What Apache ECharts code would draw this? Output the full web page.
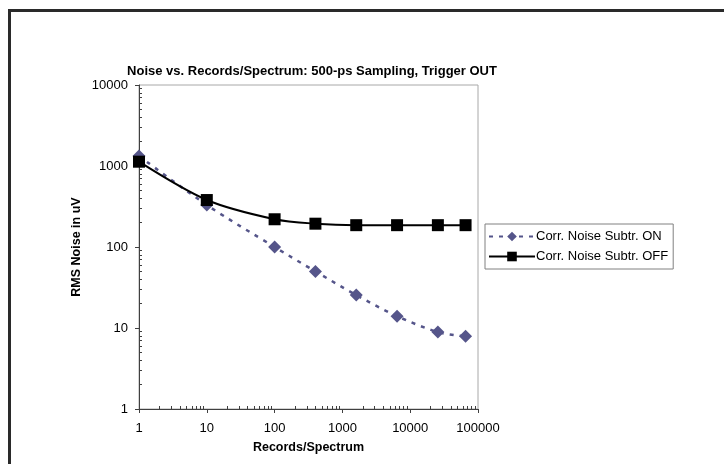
<!DOCTYPE html>
<html>
<head>
<meta charset="utf-8">
<script src="https://cdn.jsdelivr.net/npm/echarts@6/dist/echarts.min.js"></script>
<style>
html,body{margin:0;padding:0;background:#fff;}
#frame{position:absolute;left:8px;top:9px;width:740px;height:480px;border-top:3px solid #2a2a2a;border-left:3px solid #2a2a2a;box-sizing:border-box;}
#chart{position:absolute;left:0;top:0;width:724px;height:464px;}
</style>
</head>
<body>
<div id="frame"></div>
<div id="chart"></div>
<script>
const titleText = 'Noise vs. Records/Spectrum: 500-ps Sampling, Trigger OUT';
const xAxisName = 'Records/Spectrum';
const yAxisName = 'RMS Noise in uV';
const seriesNames = ['Corr. Noise Subtr. ON', 'Corr. Noise Subtr. OFF'];
const records = [1, 10, 100, 400, 1600, 6400, 25600, 65536];
const noiseOn = [1330, 330, 100, 50, 25.5, 14, 8.9, 7.9];
const noiseOff = [1130, 380, 220, 194, 186, 186, 186, 186];
const xDecades = [1, 10, 100, 1000, 10000];
const yDecades = [1, 10, 100, 1000];
const minorMultipliers = [2, 3, 4, 5, 6, 7, 8, 9];

function minorTicks(decades) {
  const out = [];
  decades.forEach(d => minorMultipliers.forEach(m => out.push(d * m)));
  return out;
}

const font = '"Liberation Sans", Arial, sans-serif';
const chart = echarts.init(document.getElementById('chart'), null, {renderer: 'canvas'});

const gridLeft = 139, gridTop = 85, gridRight = 246, gridBottom = 55;
const gridW = 724 - gridLeft - gridRight;
const gridH = 464 - gridTop - gridBottom;
const plainNum = v => String(Math.round(v));

chart.setOption({
  animation: false,
  textStyle: {fontFamily: font},
  title: {
    text: titleText,
    left: 307, textAlign: 'center', top: 60,
    textStyle: {fontFamily: font, fontSize: 13, fontWeight: 'bold', color: '#000'}
  },
  grid: {
    left: gridLeft, top: gridTop, right: gridRight, bottom: gridBottom,
    show: true, borderColor: '#a8a8a8', borderWidth: 1, backgroundColor: 'transparent',
    outerBoundsMode: 'none'
  },
  legend: {
    orient: 'vertical', left: 485, top: 224,
    itemWidth: 46, itemHeight: 12, itemGap: 7,
    padding: [6, 5, 6, 3],
    borderColor: '#808080', borderWidth: 1,
    textStyle: {fontFamily: font, fontSize: 13, color: '#000', padding: [0, 0, 0, -4]},
    data: seriesNames
  },
  xAxis: [{
    type: 'log', logBase: 10, min: 1, max: 100000,
    name: xAxisName, nameLocation: 'middle', nameGap: 32,
    nameTextStyle: {fontFamily: font, fontSize: 12.5, fontWeight: 'bold', color: '#000'},
    axisLine: {show: true, lineStyle: {color: '#404040', width: 1}},
    axisTick: {show: true, length: 4, lineStyle: {color: '#404040'}},
    axisLabel: {fontFamily: font, fontSize: 13, color: '#000', margin: 13, formatter: plainNum},
    splitLine: {show: false}
  }, {
    type: 'log', logBase: 10, min: 1, max: 100000,
    position: 'top', offset: -gridH,
    axisLine: {show: false},
    axisTick: {show: true, inside: false, length: 3, customValues: minorTicks(xDecades), lineStyle: {color: '#404040'}},
    axisLabel: {show: false},
    splitLine: {show: false}
  }],
  yAxis: [{
    type: 'log', logBase: 10, min: 1, max: 10000,
    name: yAxisName, nameLocation: 'middle', nameGap: 56,
    nameTextStyle: {fontFamily: font, fontSize: 12.5, fontWeight: 'bold', color: '#000'},
    axisLine: {show: true, lineStyle: {color: '#404040', width: 1}},
    axisTick: {show: true, length: 4, lineStyle: {color: '#404040'}},
    axisLabel: {fontFamily: font, fontSize: 13, color: '#000', margin: 11, formatter: plainNum},
    splitLine: {show: false}
  }, {
    type: 'log', logBase: 10, min: 1, max: 10000,
    position: 'right', offset: -gridW,
    axisLine: {show: false},
    axisTick: {show: true, inside: false, length: 3, customValues: minorTicks(yDecades), lineStyle: {color: '#404040'}},
    axisLabel: {show: false},
    splitLine: {show: false}
  }],
  series: [{
    name: seriesNames[0], type: 'line',
    data: records.map((x, i) => [x, noiseOn[i]]),
    smooth: 0.3,
    symbol: 'diamond', symbolSize: 13,
    itemStyle: {color: '#55558a'},
    lineStyle: {color: '#55558a', width: 2.5, type: [4, 6]},
    z: 2
  }, {
    name: seriesNames[1], type: 'line',
    data: records.map((x, i) => [x, noiseOff[i]]),
    smooth: 0.3,
    symbol: 'rect', symbolSize: 12,
    itemStyle: {color: '#000'},
    lineStyle: {color: '#000', width: 2},
    z: 3
  }]
});
</script>
</body>
</html>
